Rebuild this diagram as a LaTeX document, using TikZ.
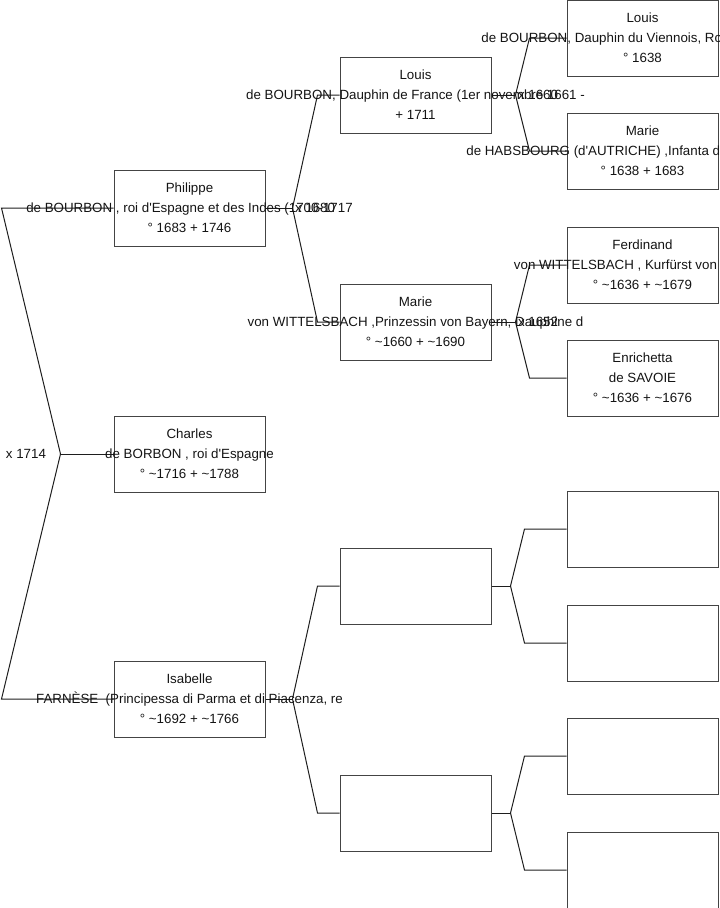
\documentclass[tikz,border=0pt]{standalone}
\usepackage{fontspec}
\setmainfont{Liberation Sans}
\usetikzlibrary{positioning}
\newcommand{\q}{\textquotesingle}
\newcommand{\tl}{\textasciitilde}

\tikzset{every picture/.style={line width=0.75pt}}
\tikzset{
  person/.style={draw={rgb,255:red,68;green,68;blue,68}, minimum width=113.25pt, minimum height=57pt, inner sep=0pt},
  names/.style={align=center, font=\fontsize{10}{15}\selectfont, inner sep=0pt, text={rgb,255:red,20;green,20;blue,20}},
  mariage/.style={font=\fontsize{10}{12}\selectfont, inner sep=0pt, text={rgb,255:red,20;green,20;blue,20}},
  link/.style={draw={rgb,255:red,30;green,30;blue,30}, line width=0.75pt}
}

\begin{document}
\begin{tikzpicture}[x=0.75pt,y=0.75pt,yscale=-1,xscale=1]
\useasboundingbox (0,0) rectangle (719,908);

%Boxes: generation 1
\node [person] (philippe) at (189.5,208) {};
\node [person] (charles) at (189.5,454) {};
\node [person] (isabelle) at (189.5,699) {};
%Boxes: generation 2
\node [person] (louisD) at (415.5,95) {};
\node [person] (marieB) at (415.5,322) {};
\node [person] (pere3) at (415.5,586) {};
\node [person] (mere3) at (415.5,813) {};
%Boxes: generation 3
\node [person] (louisXIV) at (642.5,38) {};
\node [person] (marieT) at (642.5,151) {};
\node [person] (ferdinand) at (642.5,265) {};
\node [person] (enrichetta) at (642.5,378) {};
\node [person] (g5) at (642.5,529) {};
\node [person] (g6) at (642.5,643) {};
\node [person] (g7) at (642.5,756) {};
\node [person] (g8) at (642.5,870) {};

%Forks
\draw [link] (charles.west) -- ++(-53,0) coordinate (f1);
\draw [link] (philippe.west) -- ++(-112,0) -- (f1);
\draw [link] (isabelle.west) -- ++(-112,0) -- (f1);

\draw [link] (philippe.east) -- ++(27,0) coordinate (f2);
\draw [link] (louisD.west) -- ++(-22,0) -- (f2);
\draw [link] (marieB.west) -- ++(-22,0) -- (f2);

\draw [link] (isabelle.east) -- ++(27,0) coordinate (f3);
\draw [link] (pere3.west) -- ++(-22,0) -- (f3);
\draw [link] (mere3.west) -- ++(-22,0) -- (f3);

\draw [link] (louisD.east) -- ++(24,0) coordinate (f4);
\draw [link] (louisXIV.west) -- ++(-37,0) -- (f4);
\draw [link] (marieT.west) -- ++(-37,0) -- (f4);

\draw [link] (marieB.east) -- ++(24,0) coordinate (f5);
\draw [link] (ferdinand.west) -- ++(-37,0) -- (f5);
\draw [link] (enrichetta.west) -- ++(-37,0) -- (f5);

\draw [link] (pere3.east) -- ++(19,0) coordinate (f6);
\draw [link] (g5.west) -- ++(-42,0) -- (f6);
\draw [link] (g6.west) -- ++(-42,0) -- (f6);

\draw [link] (mere3.east) -- ++(19,0) coordinate (f7);
\draw [link] (g7.west) -- ++(-42,0) -- (f7);
\draw [link] (g8.west) -- ++(-42,0) -- (f7);

% Text Node
\node [names] (tphilippe) at (philippe) {Philippe\\de BOURBON , roi d\q Espagne et des Indes (1700-1717\\° 1683 + 1746};
% Text Node
\node [names] (tcharles) at (charles) {Charles\\de BORBON , roi d\q Espagne\\° \tl 1716 + \tl 1788};
% Text Node
\node [names] (tisabelle) at (isabelle) {Isabelle\\FARNÈSE \ (Principessa di Parma et di Piacenza, re\\° \tl 1692 + \tl 1766};
% Text Node
\node [names] (tlouisD) at (louisD) {Louis\\de BOURBON, Dauphin de France (1er novembre 1661 -\\+ 1711};
% Text Node
\node [names] (tmarieB) at (marieB) {Marie\\von WITTELSBACH ,Prinzessin von Bayern, Dauphine d\\° \tl 1660 + \tl 1690};
% Text Node
\node [names] (tlouisXIV) at (louisXIV) {Louis\\de BOURBON, Dauphin du Viennois, Roi de France et\\° 1638};
% Text Node
\node [names] (tmarieT) at (marieT) {Marie\\de HABSBOURG (d\q AUTRICHE) ,Infanta de España, Reine\\° 1638 + 1683};
% Text Node
\node [names] (tferdinand) at (ferdinand) {Ferdinand\\von WITTELSBACH , Kurfürst von Bayern (\\° \tl 1636 + \tl 1679};
% Text Node
\node [names] (tenrichetta) at (enrichetta) {Enrichetta\\de SAVOIE\\° \tl 1636 + \tl 1676};

% Marriages
\node [mariage, left=10.5pt of f1] (m1) {x 1714};
\node [mariage, right=1.5pt of f2] (m2) {x 1680};
\node [mariage, right=1.5pt of f4] (m4) {x 1660};
\node [mariage, right=1.5pt of f5] (m5) {x 1652};

\end{tikzpicture}
\end{document}
